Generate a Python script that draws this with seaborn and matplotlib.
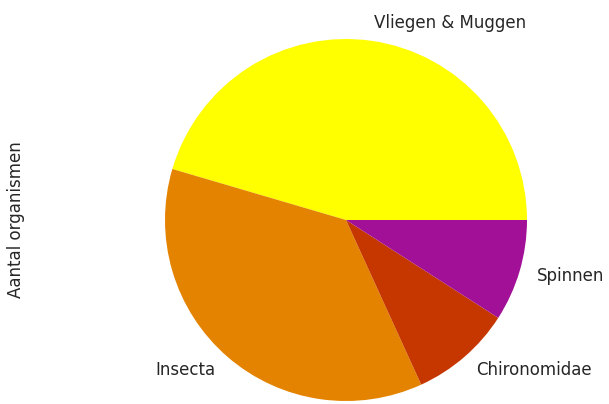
import matplotlib
matplotlib.use("Agg")
import matplotlib.pyplot as plt
import seaborn as sns
import pandas as pd

# data
categories = ["Vliegen & Muggen", "Insecta", "Chironomidae", "Spinnen"]
counts = [5, 4, 1, 1]
cmap_positions = [1.0, 0.8, 0.6, 0.4]

sns.set_theme(style="white")
plt.rcParams["font.family"] = ["DejaVu Sans"]

df = pd.DataFrame({"Aantal organismen": counts}, index=categories)
cmap = plt.get_cmap("gnuplot")
colors = [cmap(p) for p in cmap_positions]

fig = plt.figure(figsize=(6.09, 4.04), dpi=100)
size = 452.5
ax = fig.add_axes([(346 - size / 2) / 609, (184 - size / 2) / 404, size / 609, size / 404])

ax.pie(df["Aantal organismen"], labels=df.index, colors=colors, startangle=0,
       labeldistance=1.1, wedgeprops={"linewidth": 0},
       textprops={"fontsize": 12, "color": ".15"})
ax.set_xlim(-1.25, 1.25)
ax.set_ylim(-1.25, 1.25)
ax.set_aspect("equal")
ax.set_ylabel("Aantal organismen", fontsize=12, color=".15")
ax.yaxis.set_label_coords(-0.21, 0.5)

fig.savefig("out.png", dpi=100)
